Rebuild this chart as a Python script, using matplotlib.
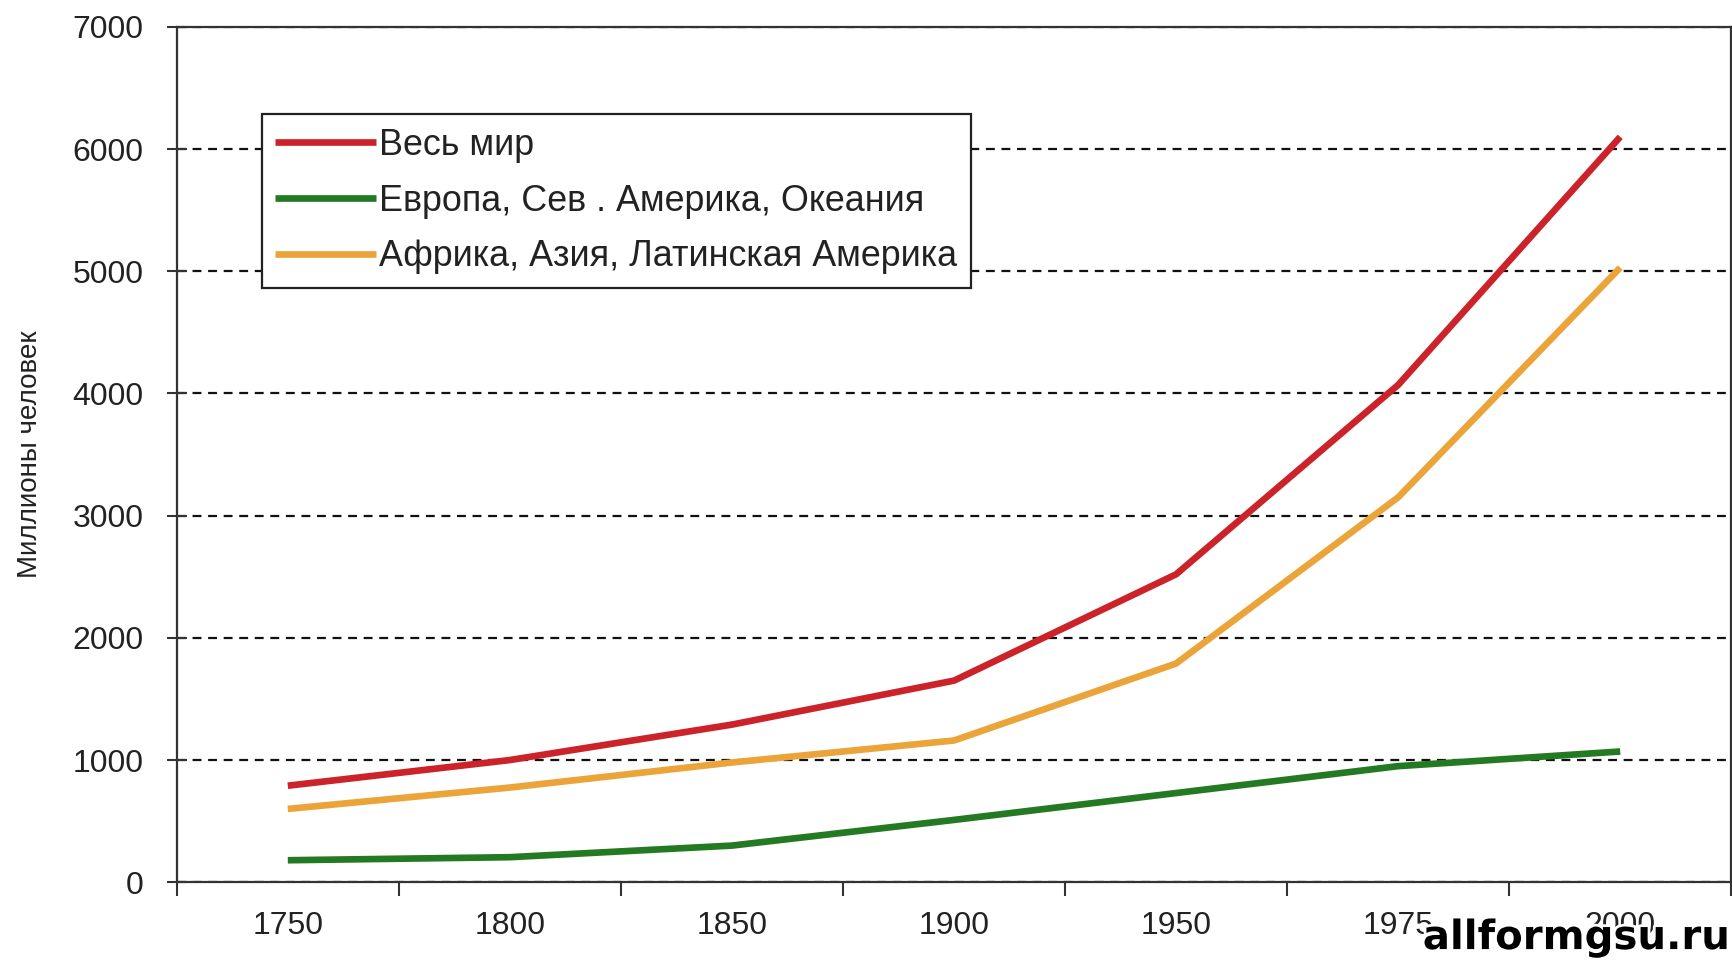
import matplotlib.pyplot as plt
import matplotlib.patheffects as pe
import numpy as np

plt.rcParams['font.family'] = ['Liberation Sans', 'DejaVu Sans']

years = ['1750', '1800', '1850', '1900', '1950', '1975', '2000']
world = [790, 1000, 1290, 1650, 2520, 4070, 6100]
developed = [180, 205, 300, 510, 730, 950, 1070]
developing = [600, 775, 980, 1160, 1790, 3150, 5030]

names = ['Весь мир',
         'Европа, Сев . Америка, Океания',
         'Африка, Азия, Латинская Америка']
colors = ['#CC2229', '#237A23', '#EBA43A']

fig = plt.figure(figsize=(17.33, 9.6), dpi=100)
ax = fig.add_axes([0.102, 0.081, 0.897, 0.891])

x = np.arange(len(years))
for vals, name, c in zip([world, developed, developing], names, colors):
    ax.plot(x, vals, color=c, lw=4.8, label=name, solid_capstyle='butt')

ax.set_xlim(-0.5, len(years) - 0.5)
ax.set_ylim(0, 7000)

# category boundaries get the tick marks, centres get the labels
ax.set_xticks(np.arange(-0.5, len(years), 1.0))
ax.set_xticklabels([])
ax.set_xticks(x, minor=True)
ax.set_xticklabels(years, minor=True)
ax.tick_params(axis='x', which='major', direction='out', length=10, width=1.5, color='#333333')
ax.tick_params(axis='x', which='minor', length=0, pad=21, labelsize=23, labelcolor='#222222')

ax.set_yticks(np.arange(0, 7001, 1000))
ax.tick_params(axis='y', direction='inout', length=14, width=1.5, color='#333333',
               pad=17, labelsize=23, labelcolor='#222222')

ax.grid(axis='y', color='#111111', lw=1.6, linestyle=(0, (4, 3)))
ax.set_axisbelow(True)

for sp in ax.spines.values():
    sp.set_color('#333333')
    sp.set_linewidth(1.6)

ax.set_ylabel('Миллионы человек', fontsize=20, color='#222222')
ax.yaxis.set_label_coords(-0.086, 0.5)

leg = ax.legend(loc='upper left', bbox_to_anchor=(0.151, 0.881),
                bbox_transform=fig.transFigure, borderaxespad=0,
                fontsize=25.8, handlelength=2.8, handletextpad=0.1,
                labelspacing=0.58, borderpad=0.38, fancybox=False,
                framealpha=1, edgecolor='#222222')
leg.get_frame().set_linewidth(1.6)
for t in leg.get_texts():
    t.set_color('#222222')

# watermark
fig.text(0.998, 0.002, 'allformgsu.ru', ha='right', va='bottom',
         fontsize=29, fontweight='bold', family='DejaVu Sans', color='black',
         path_effects=[pe.withStroke(linewidth=4, foreground='white')])

fig.savefig('out.png', dpi=100)
